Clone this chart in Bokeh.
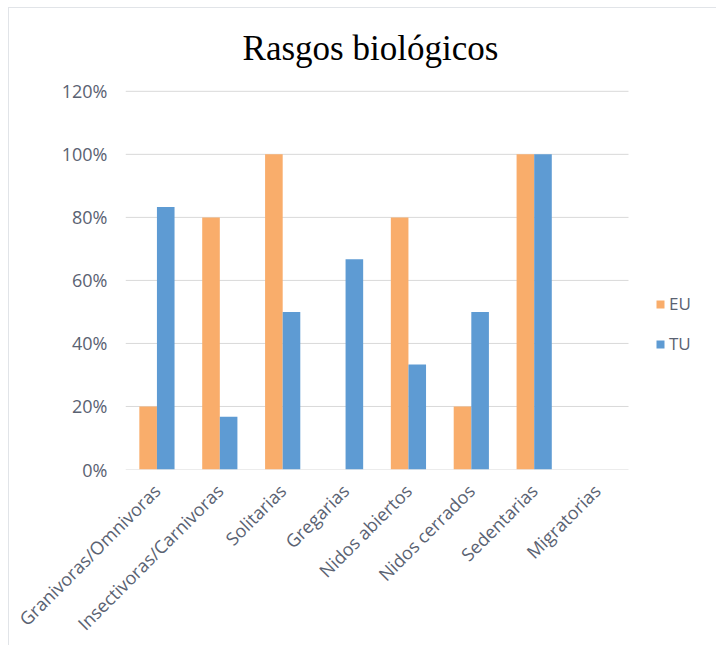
import math
from bokeh.plotting import figure
from bokeh.models import (ColumnDataSource, Range1d, NumeralTickFormatter,
                          Legend, LegendItem, FixedTicker, Label)
from bokeh.transform import dodge
from bokeh.embed import file_html
from bokeh.resources import INLINE

categories = ["Granivoras/Omnivoras", "Insectivoras/Carnivoras", "Solitarias", "Gregarias",
              "Nidos abiertos", "Nidos cerrados", "Sedentarias", "Migratorias"]
eu = [0.20, 0.80, 1.00, 0.0, 0.80, 0.20, 1.00, 0.0]
tu = [0.833, 0.167, 0.50, 0.667, 0.333, 0.50, 1.00, 0.0]
y_ticks = [0, 0.2, 0.4, 0.6, 0.8, 1.0, 1.2]
title_text = "Rasgos biológicos"

EU_COLOR = "#F9AD6B"
TU_COLOR = "#5E9BD3"
TEXT = "#5A6272"
GRID = "#D9D9D9"

n = len(categories)
xpos = [i + 0.5 for i in range(n)]
src = ColumnDataSource(dict(x=xpos, cat=categories, eu=eu, tu=tu))

# frame spans whole upper area; the data area is 503 x 379 px inside it
FRAME_W, CAT_W = 575, 503
FRAME_H, VAL_H = 462, 379
y_max = y_ticks[-1]
p = figure(x_range=Range1d(0, n * FRAME_W / CAT_W),
           y_range=Range1d(0, y_max * FRAME_H / VAL_H),
           width=708, height=638, output_backend="svg", toolbar_location=None,
           min_border_left=116, min_border_right=708 - 116 - FRAME_W,
           min_border_top=0, min_border_bottom=168)
p.styles = {"border-left": "1px solid #E1E4E8", "border-top": "1px solid #E1E4E8",
            "margin-left": "8px", "margin-top": "7px"}
p.outline_line_color = None

# gridlines spanning only the category area
p.segment(x0=[0] * len(y_ticks), x1=[n] * len(y_ticks), y0=y_ticks, y1=y_ticks,
          line_color=GRID, line_width=1)

r_eu = p.vbar(x=dodge("x", -0.14), top="eu", width=0.28, source=src,
              fill_color=EU_COLOR, line_color=None)
r_tu = p.vbar(x=dodge("x", 0.14), top="tu", width=0.28, source=src,
              fill_color=TU_COLOR, line_color=None)

p.add_layout(Label(x=n * 0.487, y=y_max * 1.1135, text=title_text,
                   text_font="Liberation Serif", text_font_size="35px",
                   text_color="#000000", text_align="center",
                   text_baseline="alphabetic"))

p.yaxis.ticker = FixedTicker(ticks=y_ticks)
p.yaxis.formatter = NumeralTickFormatter(format="0%")
p.yaxis.axis_line_color = None
p.yaxis.major_tick_line_color = None
p.yaxis.minor_tick_line_color = None
p.yaxis.major_label_standoff = 12
p.yaxis.major_label_text_font = "Open Sans"
p.yaxis.major_label_text_font_size = "18px"
p.yaxis.major_label_text_color = TEXT

p.xaxis.ticker = FixedTicker(ticks=xpos)
p.xaxis.major_label_overrides = {x: c for x, c in zip(xpos, categories)}
p.xaxis.axis_line_color = None
p.xaxis.major_tick_line_color = None
p.xaxis.minor_tick_line_color = None
p.xaxis.major_label_orientation = math.pi / 4
p.xaxis.major_label_standoff = 12
p.xaxis.major_label_text_font = "Open Sans"
p.xaxis.major_label_text_font_size = "18px"
p.xaxis.major_label_text_color = TEXT

p.xgrid.grid_line_color = None
p.ygrid.grid_line_color = None

legend = Legend(items=[LegendItem(label="EU", renderers=[r_eu]),
                       LegendItem(label="TU", renderers=[r_tu])],
                location=(530, 114), orientation="vertical")
legend.background_fill_alpha = 0
legend.border_line_color = None
legend.glyph_width = 10
legend.glyph_height = 10
legend.label_height = 20
legend.spacing = 17
legend.label_standoff = 4
legend.label_text_font = "Open Sans"
legend.label_text_font_size = "17px"
legend.label_text_color = TEXT
legend.padding = 0
legend.margin = 0
p.add_layout(legend, "center")

open("out.html", "w").write(file_html(p, INLINE))
